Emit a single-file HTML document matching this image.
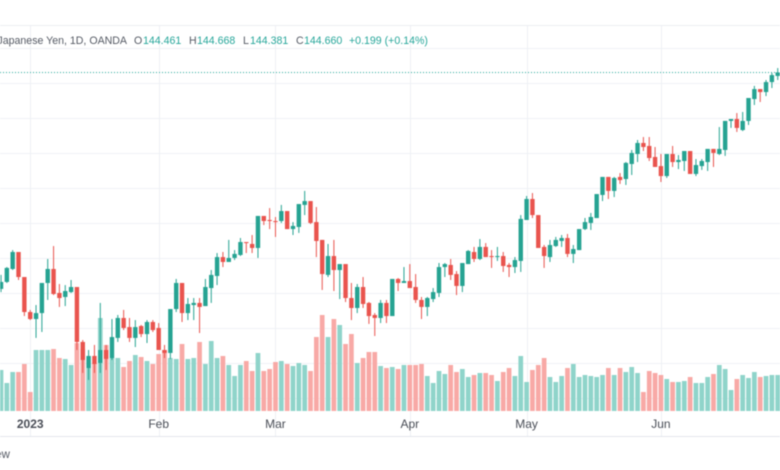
<!DOCTYPE html>
<html lang="en">
<head>
<meta charset="utf-8">
<title>USD/JPY daily candlestick chart</title>
<style>
html,body{margin:0;padding:0;background:#fff;width:780px;height:470px;overflow:hidden}
svg{display:block;filter:blur(.45px);font-family:"Liberation Sans",Arial,sans-serif}
</style>
</head>
<body>
<svg id="chart" xmlns="http://www.w3.org/2000/svg" width="780" height="470" viewBox="0 0 780 470">
  <rect width="780" height="470" fill="#ffffff"/>
  <g id="grid"></g>
  <line x1="0" x2="780" y1="25.5" y2="25.5" stroke="#eceef2"/>
  <line x1="0" x2="780" y1="436.5" y2="436.5" stroke="#e3e6ec"/>
  <g id="volumes"></g>
  <g id="priceline"></g>
  <g id="candles"></g>
  <g id="timeaxis" font-size="12" fill="#4a4e57" text-anchor="middle"></g>
  <g font-size="10.6" fill="#555a64">
    <text x="127" y="44" text-anchor="end">U.S. Dollar / Japanese Yen, 1D, OANDA</text>
    <text x="134" y="44">O</text>
    <text x="143" y="44" fill="#26a69a">144.461</text>
    <text x="189" y="44">H</text>
    <text x="197" y="44" fill="#26a69a">144.668</text>
    <text x="243" y="44">L</text>
    <text x="250" y="44" fill="#26a69a">144.381</text>
    <text x="296" y="44">C</text>
    <text x="304" y="44" fill="#26a69a">144.660</text>
    <text x="349" y="44" fill="#26a69a">+0.199 (+0.14%)</text>
  </g>
  <text x="10" y="458" text-anchor="end" font-size="11.5" fill="#555a64">TradingView</text>
</svg>
<script>
const opens = [132.29,132.69,133.43,134.40,132.97,130.97,130.57,130.91,132.63,133.43,132.06,131.83,132.11,132.40,129.26,127.77,128.46,128.06,128.80,128.34,
129.49,130.63,130.11,129.49,130.17,129.71,130.40,130.06,128.80,128.63,131.14,132.63,130.91,131.37,131.49,131.31,132.34,133.03,134.11,133.83,
134.06,134.23,134.97,134.86,134.63,136.46,136.23,136.17,136.17,136.74,135.71,135.83,137.09,137.31,136.11,135.09,133.09,134.17,133.37,133.71,
131.77,131.20,132.40,131.49,130.80,130.63,131.49,130.74,132.86,132.63,132.74,132.40,131.66,131.26,131.71,132.06,133.54,133.66,133.14,132.46,
133.71,134.40,134.00,134.69,134.17,134.11,134.17,133.66,133.54,133.89,136.23,137.43,136.51,134.69,134.11,134.74,135.03,135.20,134.29,134.51,
135.71,136.06,136.34,137.66,138.69,137.89,138.69,138.57,139.43,140.00,140.63,140.46,139.83,139.31,138.74,140.00,139.54,139.60,140.17,138.86,
139.31,139.54,140.29,140.00,140.23,141.89,142.00,141.37,141.89,143.14,143.71,143.54,144.11,144.46];
const highs = [133.09,133.54,134.51,134.40,132.97,131.09,131.37,132.63,134.00,134.74,132.57,132.51,132.80,132.40,129.37,128.80,129.09,131.49,129.09,130.57,
130.80,131.09,130.63,130.51,130.23,130.51,130.51,130.34,129.09,131.14,132.86,132.63,131.77,131.77,131.77,132.86,133.37,134.34,134.40,135.09,
134.51,135.20,134.97,135.37,136.46,136.46,136.91,136.40,137.09,136.74,136.11,137.14,137.89,137.31,136.97,135.09,134.86,135.09,133.71,133.71,
132.63,132.57,132.97,131.54,130.91,131.66,131.66,132.86,132.91,133.54,133.71,133.14,131.83,131.83,132.34,133.77,133.77,134.00,133.31,133.77,
134.51,134.69,135.14,134.91,134.51,134.69,134.40,133.77,134.11,136.51,137.60,137.77,136.51,134.80,135.09,135.26,135.37,135.43,134.80,135.71,
136.34,136.63,137.71,138.69,138.69,138.69,138.91,139.54,140.23,140.80,140.97,140.97,140.40,140.00,140.00,140.46,139.94,140.17,140.17,139.71,
139.71,140.29,140.29,141.54,141.89,142.00,142.34,142.40,143.20,143.89,143.71,144.23,144.63,144.91];
const lows = [132.11,132.63,133.37,132.80,130.74,130.51,129.49,129.83,131.66,131.94,131.26,131.31,132.06,128.80,127.49,127.09,127.49,127.49,127.66,128.23,
129.26,129.94,129.26,128.97,129.54,129.20,129.83,128.80,128.34,128.29,130.97,130.40,130.51,130.51,129.77,131.31,131.49,132.51,133.54,133.83,
133.94,134.17,134.34,134.34,134.06,135.94,135.71,135.26,136.06,135.71,135.37,135.49,136.51,136.00,134.11,132.23,132.97,132.17,131.71,131.54,
130.51,130.91,131.20,130.29,129.60,130.34,130.34,130.74,132.17,132.63,132.34,131.49,130.57,130.74,131.54,131.83,132.97,132.80,131.94,132.11,
133.71,133.83,133.94,134.11,133.49,133.89,133.26,132.97,133.20,133.26,136.23,136.34,134.63,133.49,133.83,134.69,134.69,134.11,133.77,134.51,
135.66,135.66,136.34,137.31,137.43,137.54,138.29,138.23,138.80,139.54,140.17,139.60,139.26,138.40,138.63,139.26,139.14,139.03,138.86,138.74,
139.09,139.03,139.26,139.94,139.89,141.49,141.26,141.31,141.66,142.80,142.97,143.31,143.77,144.23];
const closes = [132.69,133.49,134.40,132.97,130.97,130.57,130.91,132.63,133.43,132.00,131.77,132.17,132.40,129.26,128.23,128.46,128.00,128.80,128.29,129.54,
130.63,130.06,129.49,130.11,129.71,130.40,129.94,128.80,128.63,131.14,132.63,130.91,131.43,131.49,131.26,132.40,133.09,134.11,133.83,134.06,
134.29,134.97,134.91,134.63,136.46,136.17,136.17,136.11,136.74,135.71,135.89,137.14,137.31,136.06,135.03,133.14,134.17,133.37,133.71,131.77,
131.20,132.40,131.43,130.74,130.63,131.49,130.74,132.86,132.63,132.74,132.34,131.66,131.26,131.77,132.11,133.54,133.71,133.09,132.46,133.77,
134.46,134.00,134.69,134.11,134.11,134.17,133.60,133.54,133.94,136.29,137.43,136.51,134.63,134.17,134.80,135.09,135.20,134.29,134.57,135.71,
136.11,136.40,137.71,138.69,137.89,138.63,138.51,139.49,140.06,140.63,140.40,139.77,139.26,138.74,140.00,139.54,139.66,140.17,138.86,139.37,
139.60,140.29,140.06,140.29,141.89,142.00,141.49,141.89,143.20,143.71,143.54,144.11,144.51,144.66];
const volumes = [41,28,39,39,47,19,61,61,61,62,53,52,46,68,62,43,48,93,66,53,
53,44,50,56,54,50,47,57,61,53,52,67,52,53,69,47,70,53,55,46,
35,46,50,40,58,40,42,49,50,47,45,48,46,40,74,96,74,92,86,67,
77,48,53,59,59,45,43,44,42,46,46,46,47,35,28,40,37,46,39,42,
34,36,38,38,36,30,39,43,35,55,29,41,46,53,34,29,35,43,47,34,
36,35,34,36,43,36,43,39,44,38,19,40,38,36,32,29,29,30,34,28,
28,34,37,46,42,21,32,36,33,39,34,35,36,36];
const priceTicks = [126,128,130,132,134,136,138,140,142,144,146];
const timeLabels = ["2023","Feb","Mar","Apr","May","Jun"];
const timeLabelBars = [5,27,47,70,90,113];

function xOf(i){ return 1 + 5.84 * i; }
function yOf(p){ return 84 - (p - 144) * 17.5; }
function volY(v){ return 411 - v; }

const NS = 'http://www.w3.org/2000/svg';
const UP = '#26a392', DOWN = '#e9544e', UPV = '#8fd4ca', DOWNV = '#f8a9a6';
function make(tag, parent, attrs){
  const el = document.createElementNS(NS, tag);
  for (const k in attrs) el.setAttribute(k, attrs[k]);
  parent.appendChild(el);
  return el;
}

const grid = document.getElementById('grid');
priceTicks.forEach(function(p){
  const y = Math.round(yOf(p)) - 0.5;
  const el = make('line', grid, {x1:0, x2:780, y1:y, y2:y, stroke:'#f0f2f6'});
  
  
});
timeLabelBars.forEach(function(b){
  const x = Math.round(xOf(b)) + 0.5;
  const el = make('line', grid, {x1:x, x2:x, y1:26, y2:436, stroke:'#eef0f4'});
  
  
});

const volumeGroup = document.getElementById('volumes');
volumes.forEach(function(v, i){
  const up = closes[i] >= opens[i];
  const el = make('rect', volumeGroup, {x:xOf(i) - 2.35, y:volY(v), width:4.7, height:411 - volY(v), fill:up ? UPV : DOWNV});
  
  
});

const lastLine = make('line', document.getElementById('priceline'), {
  x1:0, x2:780, y1:yOf(closes[closes.length - 1]), y2:yOf(closes[closes.length - 1]),
  stroke:'#26a69a', 'stroke-width':1, 'stroke-dasharray':'1 2'
});



const candleGroup = document.getElementById('candles');
opens.forEach(function(o, i){
  const c = closes[i];
  const color = c >= o ? UP : DOWN;
  const x = xOf(i);
  const wick = make('line', candleGroup, {x1:x, x2:x, y1:yOf(highs[i]), y2:yOf(lows[i]), stroke:color, 'stroke-width':1});
  
  
  const top = yOf(Math.max(o, c));
  const h = Math.max(1, yOf(Math.min(o, c)) - top);
  const body = make('rect', candleGroup, {x:x - 2.2, y:top, width:4.4, height:h, fill:color});
  
  
});

const axis = document.getElementById('timeaxis');
timeLabels.forEach(function(t, i){
  const el = make('text', axis, {x:xOf(timeLabelBars[i]), y:428});
  el.textContent = t;
  
  
  if (t === '2023') el.setAttribute('font-weight', '700');
});
</script>
</body>
</html>
